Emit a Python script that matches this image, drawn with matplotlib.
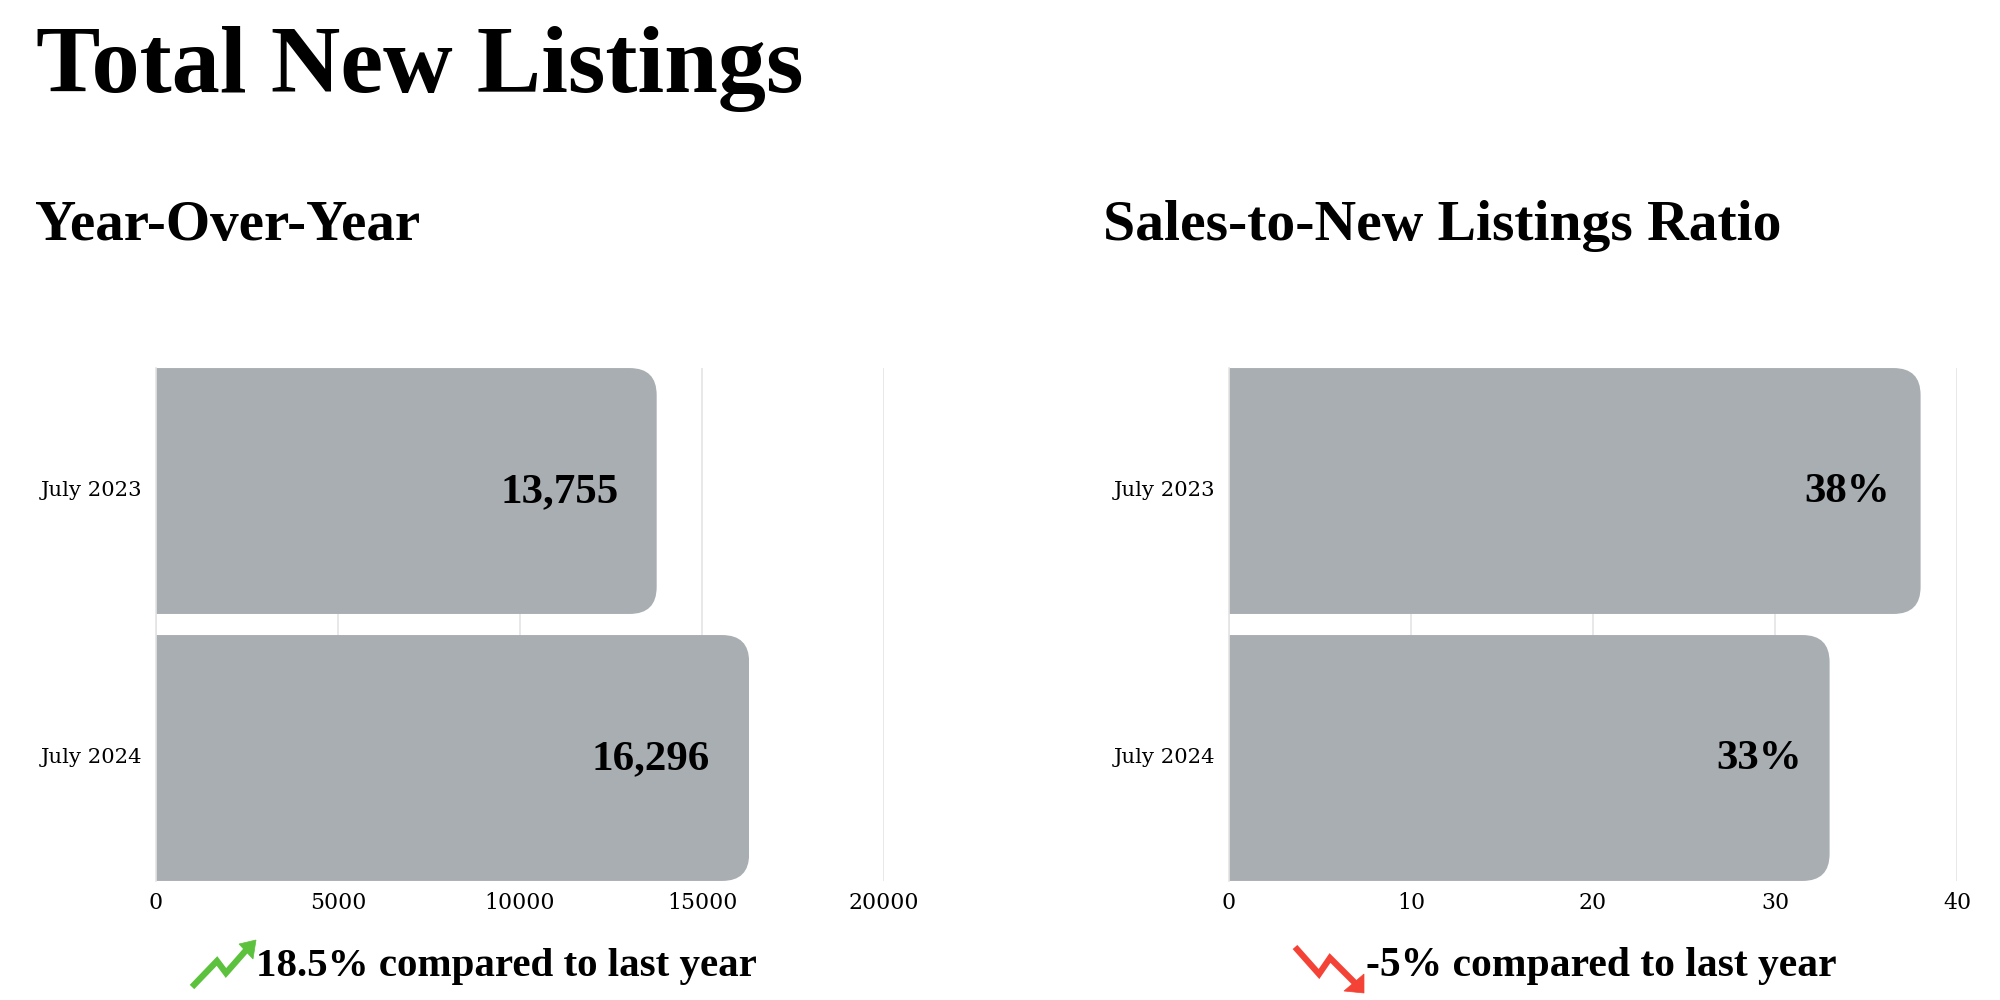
import matplotlib.pyplot as plt
from matplotlib.patches import FancyBboxPatch, Polygon
from matplotlib.transforms import IdentityTransform, ScaledTranslation

W, H = 2000, 1000

# Data
months = ['July 2023', 'July 2024']
listings = [13755, 16296]
listing_labels = ['13,755', '16,296']
listing_ticks = [0, 5000, 10000, 15000, 20000]
ratio = [38, 33]
ratio_labels = ['38%', '33%']
ratio_ticks = [0, 10, 20, 30, 40]

BAR = '#a9aeb2'
GRID = '#e4e4e4'
SERIF = 'Liberation Serif'
WIDE = 'DejaVu Serif'

fig = plt.figure(figsize=(W / 100, H / 100), dpi=100, facecolor='white')


def px_text(x, y, s, size, weight='bold', family=SERIF, ha='left'):
    # x, y are pixels from the top left, y is the baseline
    fig.text(x / W, 1 - y / H, s, fontsize=size, fontweight=weight,
             family=family, ha=ha, va='baseline', color='black')


def rounded_bars(ax, values, labels, ticks, pads):
    ax.set_xlim(ticks[0], ticks[-1])
    ax.set_ylim(1.4607, -0.4607)
    ax.set_axisbelow(True)
    ax.grid(axis='x', color=GRID, lw=1.2)
    ax.grid(axis='y', visible=False)
    for s in ['top', 'right', 'bottom']:
        ax.spines[s].set_visible(False)
    ax.spines['left'].set_color(GRID)
    ax.spines['left'].set_linewidth(1.2)
    ax.set_xticks(ticks)
    ax.set_xticklabels([str(t) for t in ticks], family=WIDE, fontsize=15.8)
    ax.set_yticks(range(len(months)))
    ax.set_yticklabels(months, family=WIDE, fontsize=15.2)
    ax.tick_params(axis='x', length=0, pad=8)
    ax.tick_params(axis='y', length=0, pad=10)
    # nudge the month labels up a little
    up = ScaledTranslation(0, 1.5 / 72, fig.dpi_scale_trans)
    for t in ax.get_yticklabels():
        t.set_transform(t.get_transform() + up)

    bars = ax.barh(range(len(values)), values, height=0.921, color=BAR)
    fig.canvas.draw()
    for bar, val, lab, pad in zip(bars, values, labels, pads):
        # round the right corners only, the left end of the clip sits past the bar
        bb = bar.get_window_extent()
        clip = FancyBboxPatch((bb.x0 - 40, bb.y0), bb.width + 40, bb.height,
                              boxstyle='round,pad=0,rounding_size=27',
                              transform=IdentityTransform())
        bar.set_clip_path(clip)
        ax.annotate(lab, (val, bar.get_y() + bar.get_height() / 2),
                    xytext=(-pad, -1), textcoords='offset pixels',
                    ha='right', va='center', fontsize=31, fontweight='bold',
                    family=SERIF, color='black')


def trend_arrow(pts, head, color):
    xs = [p[0] / W for p in pts]
    ys = [1 - p[1] / H for p in pts]
    fig.add_artist(plt.Line2D(xs, ys, color=color, lw=4.5, transform=fig.transFigure,
                              solid_joinstyle='miter', solid_capstyle='butt'))
    fig.add_artist(Polygon([(x / W, 1 - y / H) for x, y in head], closed=True,
                           facecolor=color, edgecolor=color, lw=0.5,
                           transform=fig.transFigure))


ax1 = fig.add_axes([156 / W, 1 - 881 / H, (884 - 156) / W, (881 - 368) / H])
ax2 = fig.add_axes([1229 / W, 1 - 881 / H, (1957 - 1229) / W, (881 - 368) / H])
rounded_bars(ax1, listings, listing_labels, listing_ticks, [38, 39])
rounded_bars(ax2, ratio, ratio_labels, ratio_ticks, [31, 28])

px_text(36, 92, 'Total New Listings', 69.4)
px_text(35, 240, 'Year-Over-Year', 41)
px_text(1103, 240, 'Sales-to-New Listings Ratio', 41.5)
px_text(256, 976, '18.5% compared to last year', 29.5)
px_text(1366, 976, '-5% compared to last year', 30)

trend_arrow([(192, 987), (217, 961), (226, 973), (248, 948)],
            [(256, 940), (239, 944), (253, 959)], '#5cc13c')
trend_arrow([(1295, 947), (1319, 974), (1330, 958), (1356, 984)],
            [(1364, 993), (1364, 974), (1344, 991)], '#f44336')

fig.savefig('out.png', dpi=100)
